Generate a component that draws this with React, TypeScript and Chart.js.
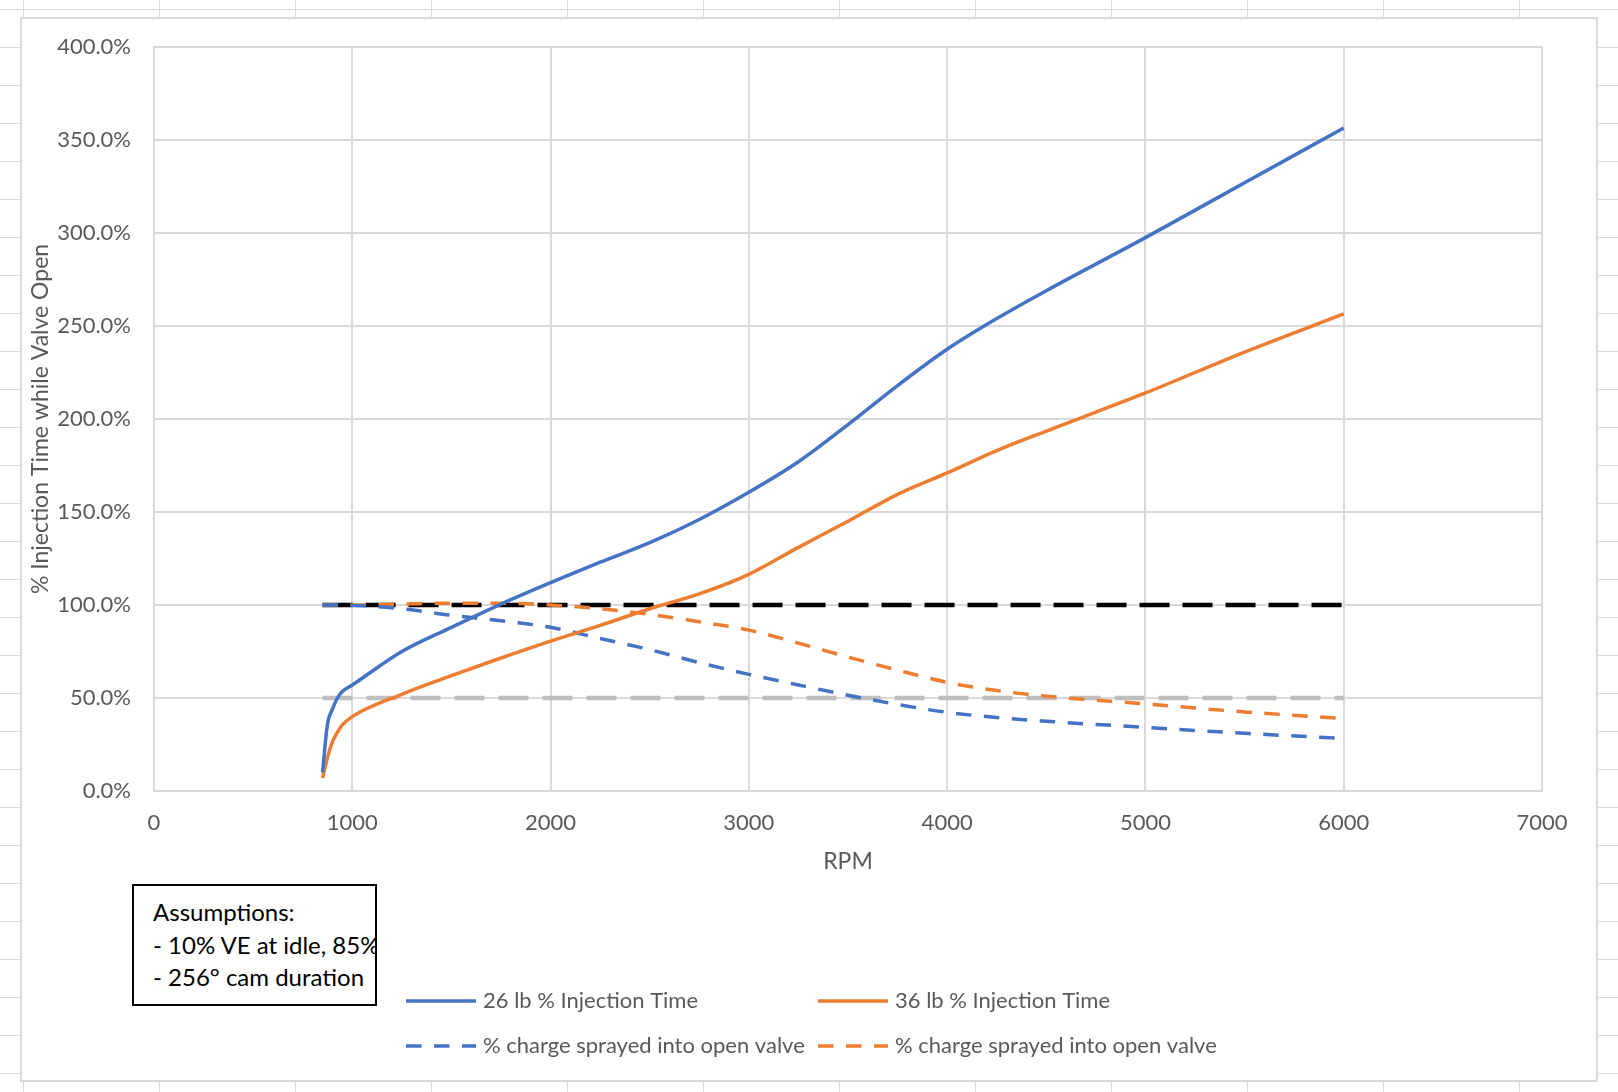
import React, { useEffect, useRef } from "react";
import { Chart, registerables } from "chart.js";

Chart.register(...registerables);

// ---- data ----
const rpm = [850, 875, 900, 925, 950, 1000, 1250, 1500, 1750, 2000, 2250, 2500, 2750, 3000, 3250, 3500, 3750, 4000, 4250, 4500, 5000, 5500, 6000];
const inj26 = [10, 36, 44, 50, 53.5, 57, 75, 88, 100.5, 112, 123, 133.5, 146, 160.6, 177, 197, 218, 237.5, 254, 269, 297.5, 327, 356.5];
const inj36 = [7, 18, 26.5, 31.5, 35.5, 40, 52, 62, 71.5, 80.6, 89, 98, 106, 116.5, 131, 145, 159.5, 171, 183, 193.5, 214, 236, 256.5];
const charge26 = [100, 100, 100, 100, 100, 99.8, 98, 94.5, 91.5, 88, 82, 76, 69, 62.7, 57, 51.5, 46.5, 42.3, 39.5, 37.5, 34.2, 31, 28.3];
const charge36 = [100, 100, 100, 100, 100, 100, 100.5, 101, 101, 100, 98, 95, 91, 86.5, 79.5, 72, 65, 58.4, 54, 51, 46.8, 42.5, 39];
const refRpm = [850, 6000];
const ref100 = [100, 100];
const ref50 = [50, 50];

const seriesLabels = [
  "26 lb % Injection Time",
  "36 lb % Injection Time",
  "% charge sprayed into open valve",
  "% charge sprayed into open valve",
];
const yAxisTitle = "% Injection Time while Valve Open";
const xAxisTitle = "RPM";
const assumptionLines = ["Assumptions:", "- 10% VE at idle, 85%", "- 256\u00b0 cam duration"];

const FONT = 'Lato, "Noto Sans", sans-serif';
const TEXT = "#595959";
const GRID = "#d9d9d9";
const BLUE = "#4472C4";
const ORANGE = "#ED7D31";

const pts = (xs: number[], ys: number[]) => xs.map((x, i) => ({ x, y: ys[i] }));

const gridLegend = {
  id: "gridLegend",
  afterDraw(chart: any, _args: any, opts: any) {
    const { ctx } = chart;
    ctx.save();
    (opts.items as number[]).forEach((dsIndex, i) => {
      const ds: any = chart.data.datasets[dsIndex];
      const col = i % opts.columns;
      const row = Math.floor(i / opts.columns);
      const x = opts.left + col * opts.colWidth;
      const y = opts.top + row * opts.rowHeight;
      ctx.beginPath();
      ctx.setLineDash(ds.borderDash || []);
      ctx.lineWidth = ds.borderWidth;
      ctx.strokeStyle = ds.borderColor;
      ctx.lineCap = "butt";
      ctx.moveTo(x, y);
      ctx.lineTo(x + opts.sampleWidth, y);
      ctx.stroke();
      ctx.setLineDash([]);
      ctx.fillStyle = opts.color;
      ctx.font = `${opts.fontSize}px ${FONT}`;
      ctx.textBaseline = "middle";
      ctx.textAlign = "left";
      ctx.fillText(ds.label, x + opts.sampleWidth + opts.gap, y);
    });
    ctx.restore();
  },
};

const noScalePadding = (s: any) => {
  s.paddingTop = 0;
  s.paddingBottom = 0;
  s.paddingLeft = 0;
  s.paddingRight = 0;
};

export default function App() {
  const ref = useRef<HTMLCanvasElement>(null);

  useEffect(() => {
    const chart = new Chart(ref.current!, {
      type: "line",
      data: {
        datasets: [
          { label: seriesLabels[0], data: pts(rpm, inj26), borderColor: BLUE, borderWidth: 3.5, cubicInterpolationMode: "monotone" },
          { label: seriesLabels[1], data: pts(rpm, inj36), borderColor: ORANGE, borderWidth: 3.5, cubicInterpolationMode: "monotone" },
          { label: seriesLabels[2], data: pts(rpm, charge26), borderColor: BLUE, borderWidth: 3.5, borderDash: [15.5, 12.5], cubicInterpolationMode: "monotone" },
          { label: seriesLabels[3], data: pts(rpm, charge36), borderColor: ORANGE, borderWidth: 3.5, borderDash: [15.5, 12.5], cubicInterpolationMode: "monotone" },
          { label: "100%", data: pts(refRpm, ref100), borderColor: "#000000", borderWidth: 4.5, borderDash: [30, 13] },
          { label: "50%", data: pts(refRpm, ref50), borderColor: "#bfbfbf", borderWidth: 4.5, borderDash: [30, 14] },
        ] as any,
      },
      options: {
        animation: false,
        responsive: false,
        events: [],
        elements: { point: { radius: 0, hoverRadius: 0 }, line: { fill: false, borderCapStyle: "butt" } },
        layout: { padding: { left: 0, top: 28, right: 54, bottom: 205 } },
        plugins: {
          legend: { display: false },
          tooltip: { enabled: false },
          gridLegend: {
            items: [0, 1, 2, 3],
            columns: 2,
            left: 384,
            top: 982,
            colWidth: 412,
            rowHeight: 45,
            sampleWidth: 70,
            gap: 7,
            fontSize: 22,
            color: TEXT,
          },
        } as any,
        scales: {
          x: {
            type: "linear",
            min: 0,
            max: 7000,
            afterFit: (s: any) => {
              noScalePadding(s);
              s.height = 84;
            },
            ticks: {
              stepSize: 1000,
              padding: 19,
              color: TEXT,
              font: { family: FONT, size: 22 },
              callback: (v: any) => String(v),
            },
            grid: { color: GRID, lineWidth: 2, drawTicks: false },
            border: { color: GRID, width: 2 },
            title: { display: true, text: xAxisTitle, color: TEXT, font: { family: FONT, size: 23 }, padding: { top: 0, bottom: 0 } },
          },
          y: {
            type: "linear",
            min: 0,
            max: 400,
            afterFit: (s: any) => {
              noScalePadding(s);
              s.width = 132;
            },
            ticks: {
              stepSize: 50,
              padding: 23,
              color: TEXT,
              font: { family: FONT, size: 22 },
              callback: (v: any) => Number(v).toFixed(1) + "%",
            },
            grid: { color: GRID, lineWidth: 2, drawTicks: false },
            border: { color: GRID, width: 2 },
            title: { display: true, text: yAxisTitle, color: TEXT, font: { family: FONT, size: 23 }, padding: { top: 5, bottom: 0 } },
          },
        },
      } as any,
      plugins: [gridLegend],
    });
    return () => chart.destroy();
  }, []);

  return (
    <div
      style={{
        position: "absolute",
        left: 0,
        top: 0,
        width: 1618,
        height: 1092,
        overflow: "hidden",
        backgroundColor: "#ffffff",
        backgroundImage:
          "linear-gradient(to right, #dadada 1px, transparent 1px), linear-gradient(to bottom, #dadada 1px, transparent 1px)",
        backgroundSize: "136px 38px",
        backgroundPosition: "23px 9px",
      }}
    >
      <div
        style={{
          position: "absolute",
          left: 20,
          top: 17,
          width: 1578,
          height: 1065,
          border: `2px solid ${GRID}`,
          boxSizing: "border-box",
          background: "#ffffff",
        }}
      >
        <canvas ref={ref} width={1574} height={1061} style={{ position: "absolute", left: 0, top: 0, width: 1574, height: 1061 }} />
      </div>
      <div
        style={{
          position: "absolute",
          left: 132,
          top: 884,
          width: 245,
          height: 122,
          border: "2px solid #000",
          boxSizing: "border-box",
          background: "#fff",
          padding: "10px 0 0 19px",
          fontFamily: FONT,
          fontSize: 24,
          lineHeight: "32.5px",
          color: "#000",
          whiteSpace: "pre",
          overflow: "hidden",
        }}
      >
        {assumptionLines.map((t, i) => (
          <div key={i}>{t}</div>
        ))}
      </div>
    </div>
  );
}
